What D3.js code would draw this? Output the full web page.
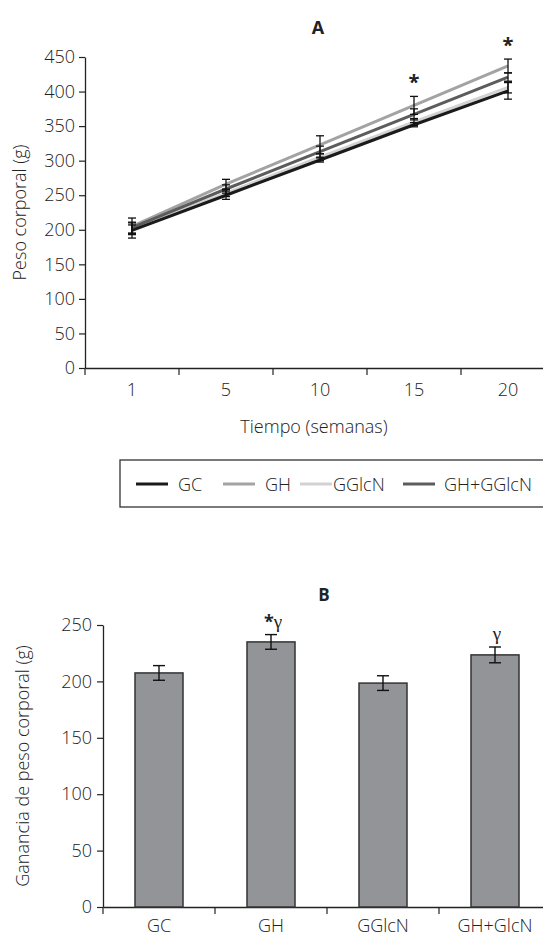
<!DOCTYPE html>
<html>
<head>
<meta charset="utf-8">
<script src="https://cdn.jsdelivr.net/npm/d3@7"></script>
<style>
  body { margin: 0; background: #fff; }
  svg { display: block; }
  text { font-family: "Open Sans", "Noto Sans", sans-serif; font-weight: 300; fill: #222; }
</style>
</head>
<body>
<svg id="chart" width="543" height="939"></svg>
<script>
// ---- panel A data: body weight over time
const weeks = ['1', '5', '10', '15', '20'];
const seriesNames = ['GC', 'GH', 'GGlcN', 'GH+GGlcN'];
const gcVals = [199, 250, 301, 352, 401];
const ghVals = [205, 266, 323, 380, 437];
const gglcnVals = [201, 253, 305, 356, 406];
const ghgglcnVals = [203, 259, 313, 367, 421];
const gcErr = [11, 6, 3, 3, 12];
const ghErr = [12, 7, 13, 13, 10];
const gglcnErr = [6, 5, 5, 5, 8];
const ghgglcnErr = [8, 6, 8, 8, 6];
const starWeeks = ['15', '20'];
const yTicksA = [0, 50, 100, 150, 200, 250, 300, 350, 400, 450];

// ---- panel B data: weight gain
const groups = ['GC', 'GH', 'GGlcN', 'GH+GlcN'];
const gainVals = [207.5, 235, 198.5, 223.5];
const gainErr = [6.5, 6.5, 6.5, 7];
const gainMarks = ['', '*γ', '', 'γ'];
const yTicksB = [0, 50, 100, 150, 200, 250];

const svg = d3.select('#chart');
const FS = '18px';

// ===================== A =====================
const colors = {'GC': '#1b1b1b', 'GH': '#a3a3a3', 'GGlcN': '#d2d2d2', 'GH+GGlcN': '#5c5c5c'};
const seriesA = [
  {name: 'GC', vals: gcVals, err: gcErr},
  {name: 'GH', vals: ghVals, err: ghErr},
  {name: 'GGlcN', vals: gglcnVals, err: gglcnErr},
  {name: 'GH+GGlcN', vals: ghgglcnVals, err: ghgglcnErr},
];
const drawOrder = ['GGlcN', 'GH', 'GH+GGlcN', 'GC'];

const xA = d3.scaleBand().domain(weeks).range([85, 555]).padding(0);
const yA = d3.scaleLinear().domain([0, 450]).range([368, 57]);

svg.append('text').attr('x', 318).attr('y', 27).attr('text-anchor', 'middle')
  .attr('dominant-baseline', 'central').style('font-weight', 'bold').style('font-size', '18px')
  .text('A');

const axA_y = svg.append('g').attr('transform', 'translate(85,0)')
  .call(d3.axisLeft(yA).tickValues(yTicksA).tickSize(6).tickPadding(4).tickSizeOuter(0));
const axA_x = svg.append('g').attr('transform', `translate(0,${yA(0)})`)
  .call(d3.axisBottom(xA).tickSize(0).tickPadding(15).tickSizeOuter(0));
// band-boundary ticks
axA_x.selectAll('.bound').data(weeks).enter().append('line')
  .attr('x1', d => xA(d)).attr('x2', d => xA(d)).attr('y1', 0).attr('y2', 7)
  .attr('stroke', '#222').attr('stroke-width', 1.2);

[axA_y, axA_x].forEach(ax => {
  ax.selectAll('path').attr('stroke', '#222').attr('stroke-width', 1.3);
  ax.selectAll('.tick line').attr('stroke', '#222').attr('stroke-width', 1.2);
  ax.selectAll('text').style('font-size', FS).style('font-weight', 300).attr('fill', '#222');
});

svg.append('text').attr('transform', `translate(19,${(yA(0) + yA(450)) / 2}) rotate(-90)`)
  .attr('text-anchor', 'middle').attr('dominant-baseline', 'central').style('font-size', FS)
  .text('Peso corporal (g)');
svg.append('text').attr('x', 314).attr('y', 426).attr('text-anchor', 'middle')
  .attr('dominant-baseline', 'central').style('font-size', FS)
  .text('Tiempo (semanas)');

const cx = w => xA(w) + xA.bandwidth() / 2;
const line = d3.line().x((d, i) => cx(weeks[i])).y(d => yA(d));

const gLines = svg.append('g');
drawOrder.forEach(name => {
  const s = seriesA.find(s => s.name === name);
  gLines.append('path').datum(s.vals).attr('d', line)
    .attr('fill', 'none').attr('stroke', colors[name]).attr('stroke-width', 3);
});

const gErrA = svg.append('g');
seriesA.forEach(s => {
  s.vals.forEach((v, i) => {
    const x = cx(weeks[i]);
    const lo = yA(v - s.err[i]), hi = yA(v + s.err[i]);
    gErrA.append('line').attr('x1', x).attr('x2', x).attr('y1', lo).attr('y2', hi)
      .attr('stroke', '#111').attr('stroke-width', 1.3);
    [lo, hi].forEach(yy => gErrA.append('line').attr('x1', x - 4).attr('x2', x + 4)
      .attr('y1', yy).attr('y2', yy).attr('stroke', '#111').attr('stroke-width', 1.3));
  });
});

starWeeks.forEach(w => {
  const i = weeks.indexOf(w);
  const top = d3.max(seriesA, s => s.vals[i] + s.err[i]);
  svg.append('text').attr('x', cx(w)).attr('y', yA(top) - 15)
    .attr('text-anchor', 'middle').attr('dominant-baseline', 'central')
    .style('font-size', '20px').style('font-weight', 'bold').text('*');
});

// legend
const leg = svg.append('g').attr('transform', 'translate(120,460)');
leg.append('rect').attr('x', 0).attr('y', 0).attr('width', 440).attr('height', 47)
  .attr('fill', 'none').attr('stroke', '#333').attr('stroke-width', 1.3);
const legX = [16, 103, 180, 283];
const legTx = [58, 145, 213, 324];
seriesNames.forEach((name, i) => {
  leg.append('line').attr('x1', legX[i]).attr('x2', legX[i] + 32).attr('y1', 24).attr('y2', 24)
    .attr('stroke', colors[name]).attr('stroke-width', 3);
  leg.append('text').attr('x', legTx[i]).attr('y', 24).attr('dominant-baseline', 'central')
    .style('font-size', FS).text(name);
});

// ===================== B =====================
const xB = d3.scaleBand().domain(groups).range([103, 551]).padding(0);
const yB = d3.scaleLinear().domain([0, 250]).range([907, 625]);
const barW = 48;

svg.append('text').attr('x', 324).attr('y', 594).attr('text-anchor', 'middle')
  .attr('dominant-baseline', 'central').style('font-weight', 'bold').style('font-size', '17px')
  .text('B');

const axB_y = svg.append('g').attr('transform', 'translate(103,0)')
  .call(d3.axisLeft(yB).tickValues(yTicksB).tickSize(6).tickPadding(5).tickSizeOuter(0));
const axB_x = svg.append('g').attr('transform', `translate(0,${yB(0)})`)
  .call(d3.axisBottom(xB).tickSize(0).tickPadding(12).tickSizeOuter(0));
axB_x.selectAll('.bound').data(groups).enter().append('line')
  .attr('x1', d => xB(d)).attr('x2', d => xB(d)).attr('y1', 0).attr('y2', 7)
  .attr('stroke', '#222').attr('stroke-width', 1.2);
[axB_y, axB_x].forEach(ax => {
  ax.selectAll('path').attr('stroke', '#222').attr('stroke-width', 1.3);
  ax.selectAll('.tick line').attr('stroke', '#222').attr('stroke-width', 1.2);
  ax.selectAll('text').style('font-size', FS).style('font-weight', 300).attr('fill', '#222');
});

svg.append('text').attr('transform', `translate(22,${(yB(0) + yB(250)) / 2}) rotate(-90)`)
  .attr('text-anchor', 'middle').attr('dominant-baseline', 'central').style('font-size', FS)
  .text('Ganancia de peso corporal (g)');

const bx = g => xB(g) + xB.bandwidth() / 2;
svg.append('g').selectAll('rect').data(groups).enter().append('rect')
  .attr('x', g => bx(g) - barW / 2).attr('width', barW)
  .attr('y', (g, i) => yB(gainVals[i])).attr('height', (g, i) => yB(0) - yB(gainVals[i]))
  .attr('fill', '#939498').attr('stroke', '#333').attr('stroke-width', 1.5);

const gErrB = svg.append('g');
groups.forEach((g, i) => {
  const x = bx(g);
  const lo = yB(gainVals[i] - gainErr[i]), hi = yB(gainVals[i] + gainErr[i]);
  gErrB.append('line').attr('x1', x).attr('x2', x).attr('y1', lo).attr('y2', hi)
    .attr('stroke', '#111').attr('stroke-width', 1.4);
  [lo, hi].forEach(yy => gErrB.append('line').attr('x1', x - 6).attr('x2', x + 6)
    .attr('y1', yy).attr('y2', yy).attr('stroke', '#111').attr('stroke-width', 1.4));
  if (gainMarks[i]) {
    const t = svg.append('text').attr('x', x + 2).attr('y', hi - 14)
      .attr('text-anchor', 'middle').attr('dominant-baseline', 'central');
    gainMarks[i].split('').forEach(ch => {
      t.append('tspan').text(ch)
        .style('font-family', ch === '*' ? '"Open Sans", sans-serif' : '"Liberation Serif", serif')
        .style('font-size', ch === '*' ? '18px' : '19px')
        .style('font-weight', ch === '*' ? 'bold' : 'normal');
    });
  }
});
</script>
</body>
</html>
